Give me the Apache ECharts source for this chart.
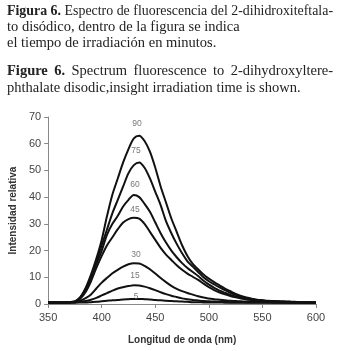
<!DOCTYPE html>
<html>
<head>
<meta charset="utf-8">
<script src="https://cdn.jsdelivr.net/npm/echarts@6/dist/echarts.min.js"></script>
<style>
  html, body { margin: 0; padding: 0; background: #fff; }
  #chart { width: 337px; height: 351px; }
</style>
</head>
<body>
<div id="chart"></div>
<script>
// longitud de onda (nm)
var wl = [350,355,360,365,370,375,380,385,390,395,400,405,410,415,420,425,430,435,440,445,
          450,455,460,465,470,475,480,485,490,495,500,505,510,515,520,525,530,535,540,545,
          550,555,560,565,570,575,580,585,590,595,600];

// intensidad relativa por tiempo de irradiacion (min)
var s90 = [0.6,0.6,0.6,0.6,0.7,1.0, 2.5,6,11,17,24,33,41,47,53,58,62, 63,61,57,51,44,38,32,27,22,18,
           15,13,11,9.5,8.2,7,5.8,4.8,3.8,3, 2.4,2,1.6,1.4,1.2,1.1,1,0.9,0.8,0.8, 0.7,0.7,0.6,0.6];
var s75 = [0.6,0.6,0.6,0.6,0.7,1.0, 2.5,5.5,10,16,22,28,34,39,44,49,52, 53,51,47,42,37,31,26.5,22.5,19,16,
           14,12,10,8.5,7.3,6.2,5.2,4.2,3.4,2.7, 2.2,1.8,1.5,1.3,1.1,1,0.9,0.8,0.8,0.7, 0.7,0.6,0.6,0.6];
var s60 = [0.6,0.6,0.6,0.6,0.7,0.9, 2.5,5.5,10,15,20,26,30,33,36.5,39,40.8, 40,37.5,34.5,30.5,26.5,23,20,17.5,15.3,13.5,
           12,10.5,8.7,7.3,6,5,4.2,3.4,2.8,2.3, 1.9,1.6,1.4,1.2,1.1,1,0.9,0.8,0.8,0.7, 0.7,0.6,0.6,0.6];
var s45 = [0.6,0.6,0.6,0.6,0.7,0.8, 2,4.5,8.5,13.5,18,22,25,28,30.5,31.8,32.3, 32,30,27,24,21,18.5,16.5,14.5,12.8,11.4,
           10.2,9,7.6,6.3,5.2,4.3,3.6,3,2.5,2.1, 1.8,1.5,1.3,1.1,1,0.9,0.8,0.8,0.7,0.7, 0.6,0.6,0.6,0.6];
var s30 = [0.6,0.6,0.6,0.6,0.6,0.7, 1.2,2.2,3.6,5.8,8,9.8,11.5,12.8,14,14.9,15.3, 15.2,14.3,13,11.4,9.7,8.2,6.8,5.7,4.8,4.1,
           3.5,2.9,2.4,2.1,1.8,1.6,1.4,1.2,1.1,1, 0.9,0.9,0.8,0.8,0.7,0.7,0.7,0.6,0.6,0.6, 0.6,0.6,0.5,0.5];
var s15 = [0.5,0.5,0.5,0.5,0.6,0.6, 0.8,1.1,1.6,2.3,3.2,4.1,5,5.8,6.3,6.7,7, 6.9,6.5,5.9,5.2,4.4,3.7,3.1,2.6,2.1,1.8,
           1.5,1.3,1.1,1,0.9,0.8,0.8,0.7,0.7,0.7, 0.6,0.6,0.6,0.6,0.6,0.5,0.5,0.5,0.5,0.5, 0.5,0.5,0.5,0.5];
var s5  = [0.5,0.5,0.5,0.5,0.5,0.5, 0.6,0.6,0.7,0.8,1,1.2,1.4,1.5,1.7,1.8,1.9, 1.9,1.8,1.7,1.5,1.4,1.2,1.1,1,0.9,0.8,
           0.7,0.7,0.6,0.6,0.6,0.6,0.5,0.5,0.5,0.5, 0.5,0.5,0.5,0.5,0.5,0.5,0.5,0.5,0.5,0.5, 0.5,0.5,0.5,0.5];

var series_list = [s90, s75, s60, s45, s30, s15, s5];
var time_list = ['90', '75', '60', '45', '30', '15', '5'];

// etiquetas de tiempo dentro de la figura [nm, intensidad, texto]
var time_labels = [[433, 67.4, '90'], [432, 57.3, '75'], [431, 44.6, '60'], [431, 35.2, '45'],
                   [432, 18.4, '30'], [431, 10.5, '15'], [432, 2.6, '5']];

var xTicks = [350, 600, 50];
var yTicks = [0, 70, 10];

var capFont = 'Liberation Serif';
var capSize = 14.5;

/*texto justificado del pie de figura*/
var measure = document.createElement('canvas').getContext('2d');
function fontOf(size, bold) {
    return (bold ? 'bold ' : '') + size + 'px "' + capFont + '"';
}
function lineWidth(words, boldCount, size) {
    var total = 0;
    words.forEach(function (w, i) {
        measure.font = fontOf(size, i < boldCount);
        total += measure.measureText(w).width;
    });
    return total;
}
function captionLine(words, boldCount, x0, x1, y, justify) {
    var size = capSize;
    measure.font = fontOf(size, false);
    var space = measure.measureText(' ').width;
    var total = lineWidth(words, boldCount, size);
    if (justify) {
        var natural = total + space * (words.length - 1);
        if (natural > x1 - x0) {
            size = capSize * (x1 - x0) / natural;
            total = lineWidth(words, boldCount, size);
        }
    }
    var gap = justify ? (x1 - x0 - total) / (words.length - 1) : space;
    var items = [];
    var x = x0;
    words.forEach(function (w, i) {
        measure.font = fontOf(size, i < boldCount);
        var wd = measure.measureText(w).width;
        items.push({
            type: 'text',
            left: x,
            top: y + (capSize - size) / 2,
            style: { text: w, fill: '#222', font: fontOf(size, i < boldCount) }
        });
        x += wd + gap;
    });
    return items;
}

var graphics = [].concat(
    captionLine('Figura 6. Espectro de fluorescencia del 2-dihidroxiteftala-'.split(' '), 2, 7, 333, 4.5, true),
    captionLine('to disódico, dentro de la figura se indica'.split(' '), 0, 7, 0, 20, false),
    captionLine('el tiempo de irradiación en minutos.'.split(' '), 0, 7, 0, 35.5, false),
    captionLine('Figure 6. Spectrum fluorescence to 2-dihydroxyltere-'.split(' '), 2, 7, 333, 63.5, true),
    captionLine('phthalate disodic,insight irradiation time is shown.'.split(' '), 0, 7, 0, 80.5, false)
);

var data = [];
for (var i = 0; i < series_list.length; i++) {
    var pts = [];
    for (var j = 0; j < wl.length; j++) {
        pts.push([wl[j], series_list[i][j]]);
    }
    data.push({
        name: time_list[i],
        type: 'line',
        data: pts,
        symbol: 'none',
        smooth: 0.3,
        lineStyle: { color: '#111', width: 2 },
        z: 3
    });
}
data.push({
    type: 'scatter',
    data: time_labels,
    symbolSize: 0,
    silent: true,
    label: {
        show: true,
        position: 'inside',
        formatter: function (p) { return p.data[2]; },
        color: '#555',
        fontSize: 8.5,
        fontFamily: 'Liberation Sans'
    },
    z: 5
});

var chart_dom = document.getElementById('chart');
var myChart = echarts.init(chart_dom);

option = {
    animation: false,
    backgroundColor: '#fff',
    graphic: graphics,
    grid: {
        left: 42,
        right: 21,
        top: 117,
        bottom: 47,
        containLabel: false
    },
    xAxis: {
        type: 'value',
        min: xTicks[0],
        max: xTicks[1],
        interval: xTicks[2],
        name: 'Longitud de onda (nm)',
        nameLocation: 'middle',
        nameGap: 31,
        nameTextStyle: { color: '#333', fontSize: 10, fontWeight: 'bold', fontFamily: 'Liberation Sans' },
        axisLine: { show: true, lineStyle: { color: '#888', width: 1 } },
        axisTick: { show: true, length: 4, lineStyle: { color: '#888' } },
        axisLabel: { color: '#444', fontSize: 11, margin: 8, fontFamily: 'Liberation Sans' },
        splitLine: { show: false }
    },
    yAxis: {
        type: 'value',
        min: yTicks[0],
        max: yTicks[1],
        interval: yTicks[2],
        name: 'Intensidad relativa',
        nameLocation: 'middle',
        nameGap: 24,
        nameTextStyle: { color: '#333', fontSize: 10, fontWeight: 'bold', fontFamily: 'Liberation Sans' },
        axisLine: { show: true, lineStyle: { color: '#888', width: 1 } },
        axisTick: { show: true, length: 4, lineStyle: { color: '#888' } },
        axisLabel: { color: '#444', fontSize: 11, margin: 7, fontFamily: 'Liberation Sans' },
        splitLine: { show: false }
    },
    series: data
};

option && myChart.setOption(option);
</script>
</body>
</html>
